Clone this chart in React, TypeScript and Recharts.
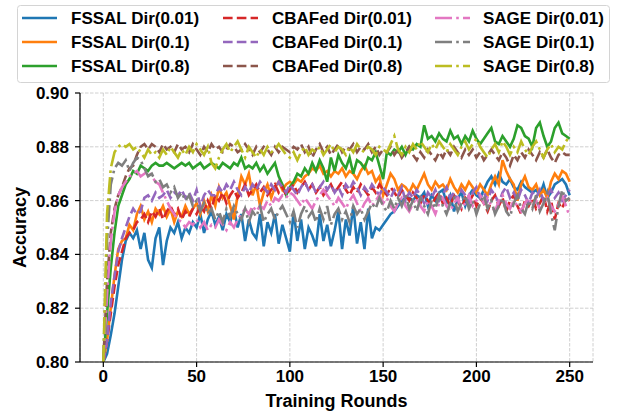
import { LineChart, Line, XAxis, YAxis, CartesianGrid } from 'recharts';

const rounds = Array.from({ length: 126 }, (_, i) => i * 2);

const fssal001 = [
  800, 803, 810, 818, 828, 838, 845, 848, 846, 849,
  842, 848, 838, 835, 846, 850, 836, 845, 850, 848,
  852, 846, 850, 848, 852, 850, 855, 848, 853, 856,
  851, 854, 849, 855, 852, 857, 850, 855, 845, 853,
  848, 846, 855, 843, 852, 848, 855, 844, 851, 846,
  841, 856, 845, 853, 842, 850, 847, 843, 855, 845,
  851, 843, 849, 856, 842, 853, 847, 858, 844, 852,
  842, 857, 846, 850, 849, 851, 853, 855, 856, 858,
  860, 861, 861, 860, 862, 861, 863, 858, 862, 860,
  863, 864, 859, 862, 856, 861, 863, 858, 862, 864,
  862, 861, 864, 867, 869, 866, 870, 867, 866, 868,
  865, 864, 867, 865, 864, 863, 864, 862, 866, 861,
  863, 866, 867, 868, 866, 862,
];
const fssal01 = [
  800, 808, 820, 832, 842, 845, 846, 851, 849, 855,
  858, 853, 856, 852, 857, 855, 858, 854, 857, 852,
  856, 854, 858, 855, 857, 859, 855, 860, 856, 862,
  858, 865, 861, 863, 858, 853, 862, 869, 866, 870,
  862, 866, 858, 863, 866, 861, 865, 867, 864, 866,
  867, 866, 868, 867, 869, 870, 872, 871, 873, 870,
  871, 869, 871, 870, 872, 869, 871, 870, 868, 871,
  873, 870, 871, 867, 869, 862, 866, 870, 868, 864,
  866, 865, 863, 866, 864, 867, 870, 866, 864, 867,
  865, 866, 864, 868, 865, 863, 866, 864, 867, 865,
  863, 866, 864, 862, 866, 869, 866, 875, 871, 868,
  866, 860, 866, 869, 865, 864, 866, 862, 864, 861,
  867, 870, 868, 871, 870, 867,
];
const fssal08 = [
  800, 818, 835, 848, 858, 862, 866, 868, 871, 870,
  873, 872, 871, 873, 874, 873, 873, 874, 873, 872,
  873, 874, 873, 874, 872, 873, 874, 872, 873, 874,
  873, 872, 874, 873, 872, 874, 873, 876, 872, 873,
  872, 874, 871, 873, 870, 872, 874, 869, 866, 862,
  865, 867, 870, 869, 872, 870, 874, 871, 875, 872,
  867, 876, 871, 877, 874, 872, 876, 870, 875, 874,
  872, 876, 875, 878, 873, 868, 878, 877, 879, 878,
  880, 877, 880, 879, 881, 880, 888, 883, 884, 882,
  885, 883, 882, 886, 883, 884, 881, 884, 882, 886,
  883, 881, 883, 885, 887, 882, 881, 884, 882, 880,
  883, 888, 887, 884, 883, 880, 887, 889, 884, 880,
  882, 887, 889, 885, 884, 883,
];
const cbafed001 = [
  800, 808, 818, 828, 836, 841, 846, 848, 849, 852,
  853, 855, 852, 856, 854, 857, 853, 856, 858, 855,
  857, 853, 856, 854, 857, 855, 858, 856, 860, 857,
  862, 860, 863, 859, 862, 864, 861, 863, 866, 862,
  864, 866, 863, 865, 862, 864, 866, 863, 865, 862,
  864, 866, 863, 865, 867, 864, 866, 863, 865, 862,
  864, 866, 863, 865, 867, 864, 862, 865, 863, 866,
  864, 862, 865, 863, 866, 864, 862, 865, 863, 861,
  864, 862, 860, 863, 861, 859, 862, 860, 858, 861,
  863, 859, 861, 858, 862, 860, 857, 861, 859, 862,
  858, 861, 859, 856, 860, 862, 858, 861, 856, 860,
  862, 858, 855, 860, 858, 861, 857, 859, 862, 856,
  860, 853, 859, 857, 861, 860,
];
const cbafed01 = [
  800, 808, 822, 832, 841, 846, 850, 854, 857, 855,
  856, 861, 862, 860, 863, 861, 862, 864, 861, 863,
  862, 864, 861, 863, 860, 864, 858, 862, 864, 862,
  862, 865, 863, 866, 864, 867, 864, 862, 865, 863,
  866, 864, 867, 865, 863, 866, 864, 867, 865, 863,
  866, 864, 862, 865, 867, 864, 866, 863, 865, 867,
  864, 866, 863, 865, 862, 866, 864, 867, 865, 862,
  865, 863, 866, 864, 862, 865, 863, 861, 864, 862,
  865, 860, 863, 861, 864, 862, 859, 863, 861, 864,
  860, 862, 865, 861, 863, 860, 864, 862, 859, 863,
  865, 861, 863, 860, 864, 862, 859, 863, 865, 861,
  863, 860, 864, 862, 859, 863, 861, 864, 860, 862,
  864, 861, 863, 860, 862, 864,
];
const cbafed08 = [
  800, 830, 848, 857, 862, 865, 869, 872, 873, 877,
  880, 881, 879, 881, 880, 878, 881, 879, 880, 878,
  881, 879, 880, 878, 881, 879, 877, 880, 878, 881,
  879, 880, 878, 879, 881, 880, 878, 879, 881, 879,
  877, 880, 878, 880, 879, 877, 880, 878, 880, 879,
  878, 880, 879, 881, 878, 880, 876, 879, 881, 878,
  880, 877, 879, 881, 878, 880, 879, 881, 878, 880,
  879, 881, 878, 880, 877, 879, 878, 880, 877, 879,
  876, 878, 880, 877, 875, 878, 876, 879, 877, 875,
  878, 876, 879, 877, 880, 878, 876, 879, 877, 879,
  876, 878, 875, 877, 879, 877, 875, 878, 876, 873,
  877, 875, 878, 876, 879, 877, 875, 878, 876, 879,
  876, 874, 877, 878, 877, 877,
];
const sage001 = [
  800, 825, 845, 856, 862, 865, 867, 869, 870, 871,
  869, 870, 871, 869, 867, 866, 863, 860, 857, 855,
  853, 852, 850, 852, 851, 853, 850, 852, 849, 851,
  850, 853, 851, 849, 852, 850, 853, 855, 857, 855,
  858, 856, 858, 857, 860, 858, 861, 860, 862, 861,
  863, 862, 860, 858, 861, 859, 857, 860, 862, 864,
  862, 860, 858, 861, 859, 857, 860, 862, 859, 856,
  859, 861, 858, 860, 862, 859, 861, 858, 856, 859,
  861, 858, 856, 859, 861, 858, 856, 860, 858, 855,
  859, 861, 858, 856, 859, 861, 857, 859, 862, 858,
  860, 862, 859, 861, 858, 856, 860, 862, 859, 857,
  860, 858, 856, 859, 861, 858, 860, 857, 859, 861,
  858, 856, 859, 862, 858, 854,
];
const sage01 = [
  800, 845, 866, 872, 874, 873, 875, 871, 874, 876,
  875, 872, 869, 870, 867, 868, 865, 866, 863, 865,
  861, 863, 860, 862, 858, 860, 856, 859, 855, 857,
  853, 856, 852, 857, 854, 858, 855, 853, 857, 852,
  856, 854, 858, 852, 855, 857, 853, 856, 858, 855,
  852, 856, 850, 855, 858, 854, 856, 852, 857, 853,
  858, 851, 855, 857, 853, 856, 852, 858, 855, 857,
  853, 856, 859, 857, 861, 858, 856, 860, 857, 861,
  858, 862, 857, 860, 856, 861, 858, 855, 860, 857,
  862, 858, 855, 859, 861, 856, 859, 862, 857, 860,
  855, 859, 862, 857, 860, 855, 858, 861, 856, 854,
  859, 862, 857, 855, 860, 857, 862, 856, 859, 863,
  855, 849, 858, 864, 860, 861,
];
const sage08 = [
  800, 855, 872, 878, 880, 881, 880, 881, 879, 880,
  878, 876, 879, 877, 878, 876, 879, 877, 880, 878,
  876, 879, 877, 880, 878, 881, 879, 877, 880, 874,
  872, 876, 879, 881, 878, 880, 882, 879, 876, 880,
  878, 876, 879, 877, 880, 878, 879, 881, 879, 877,
  876, 878, 875, 878, 880, 877, 879, 878, 880, 877,
  879, 881, 878, 880, 879, 877, 880, 878, 881, 879,
  878, 880, 879, 877, 880, 879, 878, 881, 884, 879,
  877, 880, 878, 881, 879, 882, 880, 878, 881, 879,
  882, 880, 878, 881, 879, 877, 880, 882, 879, 881,
  883, 880, 878, 876, 879, 881, 878, 882, 880, 877,
  880, 878, 882, 879, 877, 880, 882, 879, 876, 879,
  881, 878, 880, 879, 882, 884,
];

const xTicks = [0, 50, 100, 150, 200, 250];
const yTicks = [0.8, 0.82, 0.84, 0.86, 0.88, 0.9];

const DASH = '9.6 4.2';
const DASHDOT = '17 4.2 2.6 4.2';

const series = [
  { key: 'fssal001', name: 'FSSAL Dir(0.01)', values: fssal001, color: '#1f77b4', dash: undefined },
  { key: 'fssal01', name: 'FSSAL Dir(0.1)', values: fssal01, color: '#ff7f0e', dash: undefined },
  { key: 'fssal08', name: 'FSSAL Dir(0.8)', values: fssal08, color: '#2ca02c', dash: undefined },
  { key: 'cbafed001', name: 'CBAFed Dir(0.01)', values: cbafed001, color: '#d62728', dash: DASH },
  { key: 'cbafed01', name: 'CBAFed Dir(0.1)', values: cbafed01, color: '#9467bd', dash: DASH },
  { key: 'cbafed08', name: 'CBAFed Dir(0.8)', values: cbafed08, color: '#8c564b', dash: DASH },
  { key: 'sage001', name: 'SAGE Dir(0.01)', values: sage001, color: '#e377c2', dash: DASHDOT },
  { key: 'sage01', name: 'SAGE Dir(0.1)', values: sage01, color: '#7f7f7f', dash: DASHDOT },
  { key: 'sage08', name: 'SAGE Dir(0.8)', values: sage08, color: '#bcbd22', dash: DASHDOT },
];

const rows = rounds.map((round, i) => {
  const row: Record<string, number> = { round };
  series.forEach((s) => {
    row[s.key] = s.values[i] / 1000;
  });
  return row;
});

const FONT = '"Liberation Sans", Arial, sans-serif';
const tickStyle = { fontSize: 17, fontWeight: 700, fill: '#000', fontFamily: FONT };

function LegendBox() {
  const colX = [22, 223, 435];
  const textX = [71, 272, 483];
  const rowY = [18, 42, 66];
  return (
    <svg width={625} height={90} style={{ position: 'absolute', left: 0, top: 0 }}>
      <rect x={17.5} y={5.5} width={592} height={77} rx={3} fill="#fff" fillOpacity={0.8} stroke="#d4d4d4" />
      {series.map((s, i) => {
        const col = Math.floor(i / 3);
        const row = i % 3;
        const y = rowY[row];
        return (
          <g key={s.key}>
            <line x1={colX[col]} x2={colX[col] + 35} y1={y} y2={y} stroke={s.color} strokeWidth={2.6} strokeDasharray={s.dash} />
            <text x={textX[col]} y={y + 6} fontSize={17} fontWeight={700} fontFamily={FONT} fill="#000">
              {s.name}
            </text>
          </g>
        );
      })}
    </svg>
  );
}

export default function App() {
  return (
    <div style={{ position: 'absolute', left: 0, top: 0, width: 625, height: 412, background: '#fff' }}>
      <LineChart width={625} height={412} data={rows} margin={{ top: 93, right: 32, bottom: 0, left: 0 }}>
        <CartesianGrid stroke="#c4c4c4" strokeDasharray="3.5 1.5" strokeWidth={0.8} />
        <XAxis
          dataKey="round"
          type="number"
          domain={[-12.5, 262.5]}
          ticks={xTicks}
          height={50}
          tick={tickStyle}
          tickSize={5}
          tickMargin={3}
          stroke="#000"
          axisLine={{ stroke: '#000', strokeWidth: 1.2 }}
          tickLine={{ stroke: '#000', strokeWidth: 1.2 }}
          label={{ value: 'Training Rounds', position: 'insideBottom', offset: 5, style: { fontSize: 18, fontWeight: 700, fill: '#000', fontFamily: FONT } }}
        />
        <XAxis xAxisId="top" orientation="top" type="number" dataKey="round" domain={[-12.5, 262.5]} height={0} tick={false} tickLine={false} axisLine={{ stroke: '#000', strokeWidth: 1.2 }} />
        <YAxis
          type="number"
          domain={[0.8, 0.9]}
          ticks={yTicks}
          width={80}
          tick={tickStyle}
          tickSize={5}
          tickMargin={6}
          tickFormatter={(v: number) => v.toFixed(2)}
          allowDataOverflow
          axisLine={{ stroke: '#000', strokeWidth: 1.2 }}
          tickLine={{ stroke: '#000', strokeWidth: 1.2 }}
          label={{ value: 'Accuracy', angle: -90, position: 'insideLeft', offset: 20, style: { fontSize: 18, fontWeight: 700, fill: '#000', fontFamily: FONT, textAnchor: 'middle' } }}
        />
        <YAxis yAxisId="right" orientation="right" type="number" domain={[0.8, 0.9]} width={0} tick={false} tickLine={false} axisLine={{ stroke: '#000', strokeWidth: 1.2 }} />
        {series.map((s) => (
          <Line
            key={s.key}
            dataKey={s.key}
            name={s.name}
            type="linear"
            stroke={s.color}
            strokeWidth={2.6}
            strokeDasharray={s.dash}
            dot={false}
            isAnimationActive={false}
          />
        ))}
      </LineChart>
      <LegendBox />
    </div>
  );
}
